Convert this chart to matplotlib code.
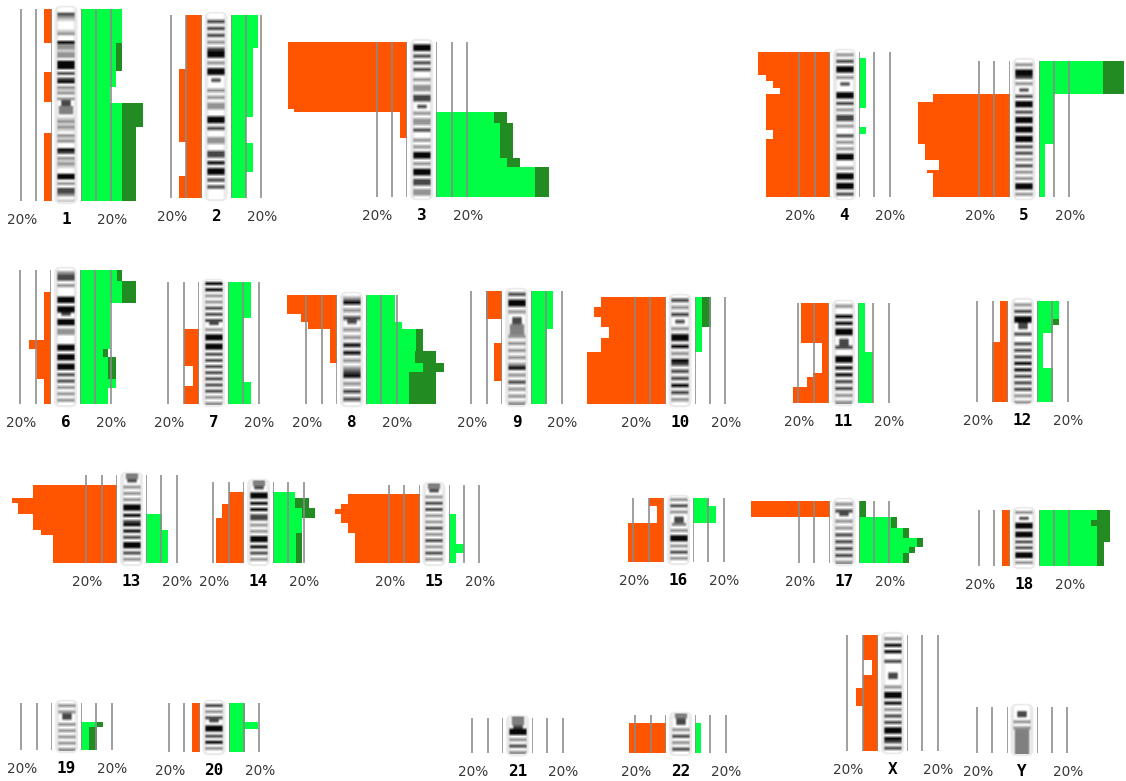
import numpy as np
import matplotlib
matplotlib.use("Agg")
import matplotlib.pyplot as plt
from matplotlib.patches import FancyBboxPatch

# ---------------------------------------------------------------- data
chromosomes = ["1", "2", "3", "4", "5", "6", "7", "8", "9", "10", "11", "12",
               "13", "14", "15", "16", "17", "18", "19", "20", "21", "22", "X", "Y"]
lengths_mb = [249.3, 243.2, 198.0, 191.2, 180.9, 171.1, 159.1, 146.4, 141.2, 135.5,
              135.0, 133.9, 115.2, 107.3, 102.5, 90.4, 81.2, 78.1, 59.1, 63.0,
              48.1, 51.3, 155.3, 59.4]
grid_pct = [0, 10, 20]
scale_label = "20%"

# losses: (segment end in Mb, % of cases)
# gains:  (segment end in Mb, % of cases with gain, of which high-level %)
loss_1 = [(44, 5), (82, 0), (121, 5), (161, 0), (249.3, 5)]
gain_1 = [(44, 27, 0), (80, 27, 4), (101, 23, 0), (122, 19, 0), (153, 41, 14), (249.3, 36, 9)]
loss_2 = [(72, 10), (169, 14.5), (214, 10), (243.2, 14.5)]
gain_2 = [(44, 18, 0), (135, 14.5, 0), (170, 10, 0), (208, 14.5, 0), (243.2, 10, 0)]
loss_3 = [(86, 78), (89, 74), (123, 4.4), (198, 0)]
gain_3 = [(89, 0, 0), (103, 46, 8.5), (148, 50, 8.5), (160, 54.6, 8.5), (198, 73.4, 8.5)]
loss_4 = [(30, 47), (38, 42), (47, 37), (55, 33), (103, 42), (115, 37), (191.2, 42)]
gain_4 = [(8, 0, 0), (74, 4.6, 0), (99, 0, 0), (108, 4.6, 0), (191.2, 0, 0)]
loss_5 = [(44, 0), (55, 50), (110, 59.5), (132, 55), (145, 46.4), (149, 54), (180.9, 50)]
gain_5 = [(44, 56, 14), (110, 10, 0), (180.9, 4, 0)]
loss_6 = [(28, 0), (89, 4.6), (101, 14.4), (139, 9), (171.1, 4.6)]
gain_6 = [(14, 27.5, 3.3), (42, 36.6, 9), (101, 19.6, 0), (111, 18.3, 3.3), (139, 23.5, 5),
          (151, 23.5, 0), (171.1, 18.3, 0)]
loss_7 = [(61, 0), (109, 10), (136, 4), (159.1, 10)]
gain_7 = [(47, 15, 0), (130, 10.5, 0), (159.1, 15, 0)]
loss_8 = [(25, 32.7), (36, 23.5), (46, 19), (92, 4.6), (146.4, 0)]
gain_8 = [(36, 19, 0), (46, 23.5, 0), (75, 37, 4.6), (92, 46, 13.7), (104, 51, 13.7), (146.4, 46, 17.6)]
loss_9 = [(35, 10.5), (65, 0), (112, 5), (141.2, 0)]
gain_9 = [(47, 14.4, 0), (141.2, 10.5, 0)]
loss_10 = [(13, 42), (25, 47), (38, 42), (52, 37), (70, 42), (135.5, 51)]
gain_10 = [(38, 10.5, 5.5), (70, 5, 0), (135.5, 0, 0)]
loss_11 = [(54, 18.3), (95, 4.6), (100, 10.5), (113, 14.4), (135.0, 23.5)]
gain_11 = [(66, 4.6, 0), (135.0, 10, 0)]
loss_12 = [(54, 5), (133.9, 10.5)]
gain_12 = [(24, 14.4, 0), (32, 14.4, 4), (42, 10.5, 0), (89, 4, 0), (133.9, 10.5, 0)]
loss_13 = [(13, 0), (30, 55), (37, 68.6), (51, 64.7), (72, 55), (78, 50), (115.2, 42)]
gain_13 = [(51, 0, 0), (72, 10.5, 0), (115.2, 14.4, 0)]
loss_14 = [(13, 0), (29, 10), (48, 14.4), (107.3, 18.3)]
gain_14 = [(13, 0, 0), (21, 14.4, 0), (34, 23.5, 9), (48, 27.5, 8.5), (67, 19, 0), (107.3, 19, 4)]
loss_15 = [(12, 0), (25, 47), (32, 51), (38, 55), (50, 51), (63, 47), (102.5, 42)]
gain_15 = [(38, 0, 0), (77, 5, 0), (90, 10, 0), (102.5, 5, 0)]
loss_16 = [(11, 10), (35, 4.6), (90.4, 23.5)]
gain_16 = [(11, 10.5, 0), (35, 15, 0), (90.4, 0, 0)]
loss_17 = [(21, 51), (81.2, 0)]
gain_17 = [(21, 5, 5), (35, 25, 4), (48, 33, 4), (60, 42, 4), (68, 37, 4), (81.2, 33, 4)]
loss_18 = [(78.1, 4.6)]
gain_18 = [(14, 47, 8.5), (22, 47, 12.4), (45, 47, 8.5), (78.1, 42.5, 4)]
loss_19 = [(59.1, 0)]
gain_19 = [(24, 0, 0), (30, 14.4, 4), (59.1, 10.5, 5)]
loss_20 = [(63.0, 4.6)]
gain_20 = [(25, 10.5, 0), (34, 19.6, 0), (63.0, 10.5, 0)]
loss_21 = [(48.1, 0)]
gain_21 = [(48.1, 0, 0)]
loss_22 = [(11, 0), (51.3, 24)]
gain_22 = [(11, 0, 0), (51.3, 4, 0)]
loss_X = [(33, 10), (53, 4), (71, 10), (95, 14.4), (155.3, 10)]
gain_X = [(155.3, 0, 0)]
loss_Y = [(59.4, 0)]
gain_Y = [(59.4, 0, 0)]

# ideogram band stains, top (pter) to bottom, equal slices
# 0 white, 1 light, 2 grey, 3 dark, 4 black, c centromere, h heterochromatin, s stalk
bands_1 = "003210001200422122044403034021202cchhh0121210212004302121004402033201"
bands_2 = "0030303020344020440c0020202200440300220033040440303000"
bands_3 = "0440303030020220330c020220300202044020440330220"
bands_4 = "0203044020c00440302033020030202044002044044030"
bands_5 = "020443020c0304403044044044030302030202044020"
bands_6 = "02330200044044c0440220004404404403030202020"
bands_7 = "04040202030303c02044044030303030303030202"
bands_8 = "0240203c020204040202340203030"
bands_9 = "03044020cchhh20202020240203020202"
bands_10 = "0302030c02044040204303030403020"
bands_11 = "02004040440cc30044040403030202"
bands_12 = "0203044cc03003030304040303030202"
bands_13 = "ssc02020204404034040304403020"
bands_14 = "ssc044040403302020440403020"
bands_15 = "ssc02030302020302030203020"
bands_16 = "0203020cch020440203020"
bands_17 = "0203c02020303030302"
bands_18 = "020c0440440303044020"
bands_19 = "0202cc0202020202"
bands_20 = "030203c0440304020"
bands_21 = "sssc44020302"
bands_22 = "sscc020302030"
bands_X = "020404003000cc00204404020303044043030"
bands_Y = "00cc0202hhhhhhhh"

LOSSES = [loss_1, loss_2, loss_3, loss_4, loss_5, loss_6, loss_7, loss_8, loss_9, loss_10,
          loss_11, loss_12, loss_13, loss_14, loss_15, loss_16, loss_17, loss_18, loss_19,
          loss_20, loss_21, loss_22, loss_X, loss_Y]
GAINS = [gain_1, gain_2, gain_3, gain_4, gain_5, gain_6, gain_7, gain_8, gain_9, gain_10,
         gain_11, gain_12, gain_13, gain_14, gain_15, gain_16, gain_17, gain_18, gain_19,
         gain_20, gain_21, gain_22, gain_X, gain_Y]
BANDS = [bands_1, bands_2, bands_3, bands_4, bands_5, bands_6, bands_7, bands_8, bands_9,
         bands_10, bands_11, bands_12, bands_13, bands_14, bands_15, bands_16, bands_17,
         bands_18, bands_19, bands_20, bands_21, bands_22, bands_X, bands_Y]

# ---------------------------------------------------------------- layout (pixels)
W, H = 1126, 781
center_x = [66, 216, 421.7, 844.5, 1024, 65.5, 213.5, 351.5, 516.5, 680, 843.5, 1022.5,
            131.5, 258.5, 434, 678.5, 844, 1024, 66.5, 214, 517.5, 680.5, 892.5, 1022]
top_y = [9, 15, 42, 52, 61, 270, 282, 295, 291, 297, 303, 301,
         475, 482, 485, 498, 501, 510, 703, 703, 718, 715, 635, 707]
bottom_y = [201, 198, 197, 197, 197, 404, 404, 404, 404, 404, 403, 402,
            563, 563, 563, 562, 563, 566, 750, 752, 753, 753, 751, 753]
PX_PER_PCT = 1.53
HALF = 14.5        # centre -> 0% line
IDEO_HALF = 9.8    # half width of ideogram body
LABEL_DROP = 23    # baseline of labels below chromosome bottom

ORANGE = "#FF5500"
GREEN = "#00FF44"
DARK = "#228B22"
GRID = "#8a8a8a"

BAND_STYLE = {"0": (0.0, 1.0), "1": (0.18, 1.0), "2": (0.42, 1.0), "3": (0.72, 1.0),
              "4": (0.97, 1.0), "c": (0.72, 0.6), "h": (0.5, 0.85), "s": (0.5, 0.75)}

fig = plt.figure(figsize=(W / 100, H / 100), dpi=100)
fig.patch.set_facecolor("white")


def px_axes(x0, y_top, w, h):
    ax = fig.add_axes([x0 / W, 1 - (y_top + h) / H, w / W, h / H])
    ax.set_axis_off()
    ax.set_facecolor("none")
    return ax


def band_image(s, ncols=40):
    xs = np.linspace(-IDEO_HALF, IDEO_HALF, ncols)
    img = np.ones((len(s), ncols))
    edge = np.clip((np.abs(xs) - 6.5) / 3.0, 0, 1)
    for i, ch in enumerate(s):
        d, wf = BAND_STYLE[ch]
        prof = np.clip((IDEO_HALF * wf - np.abs(xs)) / 2.2, 0, 1)
        img[i] = 1 - d * prof
    img = img * (1 - 0.10 * edge)
    return img


span = 100 * PX_PER_PCT
for i, name in enumerate(chromosomes):
    L = lengths_mb[i]
    cx, top, bot = center_x[i], top_y[i], bottom_y[i]
    h = bot - top

    # ---- losses (left, growing leftwards)
    lends = np.array([s[0] for s in LOSSES[i]], float)
    lvals = np.array([s[1] for s in LOSSES[i]], float)
    ledges = np.concatenate([[0.0], lends])
    axL = px_axes(cx - HALF - span, top, span, h)
    axL.set_xlim(100, 0)
    axL.set_ylim(L, 0)
    axL.stairs(lvals, ledges, orientation="horizontal", fill=True, color=ORANGE, lw=0)
    axL.vlines(grid_pct, 0, L, colors=GRID, lw=1.15, zorder=3)
    axL.annotate(scale_label, xy=(grid_pct[-1], 0), xycoords=("data", "axes fraction"),
                 xytext=(1, -LABEL_DROP), textcoords="offset pixels", ha="center",
                 va="baseline", fontsize=9.8, color="#383838", annotation_clip=False)

    # ---- gains (right)
    gends = np.array([s[0] for s in GAINS[i]], float)
    gtot = np.array([s[1] for s in GAINS[i]], float)
    gamp = np.array([s[2] for s in GAINS[i]], float)
    gedges = np.concatenate([[0.0], gends])
    axG = px_axes(cx + HALF, top, span, h)
    axG.set_xlim(0, 100)
    axG.set_ylim(L, 0)
    axG.stairs(gtot, gedges, orientation="horizontal", fill=True, color=GREEN, lw=0)
    if np.any(gamp > 0):
        axG.stairs(gtot, gedges, baseline=gtot - gamp, orientation="horizontal",
                   fill=True, color=DARK, lw=0)
    axG.vlines(grid_pct, 0, L, colors=GRID, lw=1.15, zorder=3)
    axG.annotate(scale_label, xy=(grid_pct[-1], 0), xycoords=("data", "axes fraction"),
                 xytext=(1, -LABEL_DROP), textcoords="offset pixels", ha="center",
                 va="baseline", fontsize=9.8, color="#383838", annotation_clip=False)

    # ---- ideogram
    m = 4
    axI = px_axes(cx - IDEO_HALF - m, top - m, 2 * (IDEO_HALF + m), h + 2 * m)
    axI.set_xlim(-IDEO_HALF - m, IDEO_HALF + m)
    axI.set_ylim(h + m, -m)
    glow = FancyBboxPatch((-IDEO_HALF, -1.5), 2 * IDEO_HALF, h + 3,
                          boxstyle="round,pad=0.5,rounding_size=5",
                          fc="white", ec="#ebebeb", lw=1.8, zorder=1)
    axI.add_patch(glow)
    body = FancyBboxPatch((-IDEO_HALF, -1.5), 2 * IDEO_HALF, h + 3,
                          boxstyle="round,pad=0,rounding_size=5",
                          fc="none", ec="none", zorder=2)
    axI.add_patch(body)
    im = axI.imshow(band_image(BANDS[i]), cmap="gray", vmin=0, vmax=1, aspect="auto",
                    extent=(-IDEO_HALF, IDEO_HALF, h + 1.5, -1.5),
                    interpolation="bilinear", zorder=2)
    im.set_clip_path(body)
    axI.annotate(name, xy=(0, 0), xycoords=("data", "axes fraction"),
                 xytext=(0, -LABEL_DROP + m), textcoords="offset pixels", ha="center",
                 va="baseline", fontsize=11.5, fontweight="bold", color="black",
                 family="DejaVu Sans Mono", annotation_clip=False)

fig.savefig("out.png", dpi=100, facecolor="white")
